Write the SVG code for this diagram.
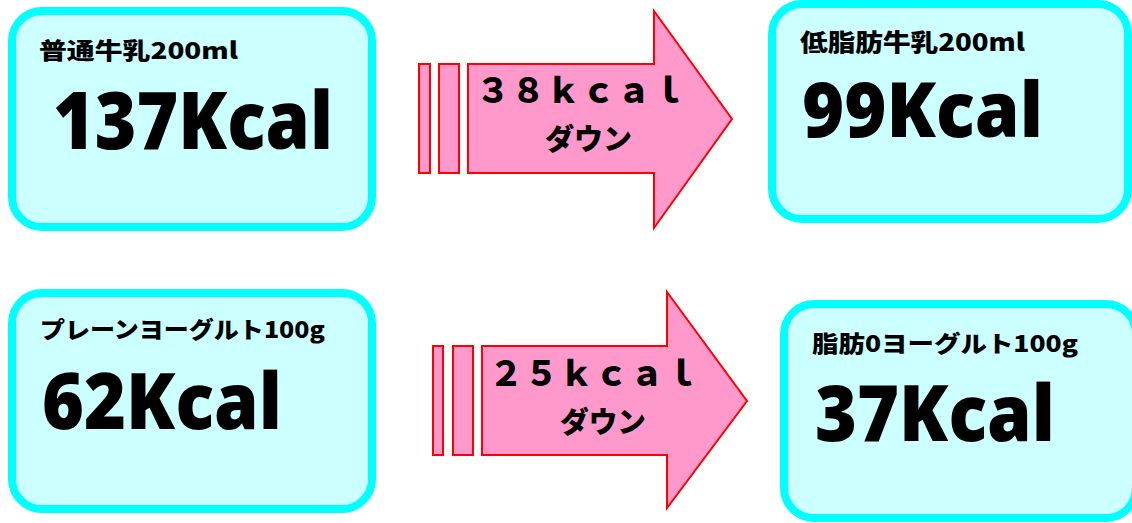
<svg xmlns="http://www.w3.org/2000/svg" width="1132" height="523" viewBox="0 0 1132 523">
<style>
.box{fill:#CCFFFF;stroke:#00FFFF;stroke-width:8}
.arr{fill:#FF99CC;stroke:#FF0000;stroke-width:2}
.lbl{font-family:"Noto Sans CJK JP","Noto Sans",sans-serif;font-weight:900;fill:#000}
.big{font-family:"Noto Sans","Noto Sans CJK JP",sans-serif;font-weight:900;fill:#000}
.at{font-family:"Noto Sans CJK JP",sans-serif;font-weight:900;fill:#000}
</style>
<rect width="1132" height="523" fill="#FFFFFF"/>
<g id="node-milk">
<rect class="box" x="12" y="11" width="360" height="216" rx="30"/>
<text class="lbl" x="39" y="59" font-size="23" textLength="199" lengthAdjust="spacingAndGlyphs">普通牛乳200ml</text>
<text class="big" x="53" y="149" font-size="80" textLength="280" lengthAdjust="spacingAndGlyphs">137Kcal</text>
</g>
<g id="node-lowfat-milk">
<rect class="box" x="772" y="4" width="356" height="215" rx="30"/>
<text class="lbl" x="800" y="51" font-size="24" textLength="225" lengthAdjust="spacingAndGlyphs">低脂肪牛乳200ml</text>
<text class="big" x="802" y="137" font-size="76" textLength="241" lengthAdjust="spacingAndGlyphs">99Kcal</text>
</g>
<g id="node-yogurt">
<rect class="box" x="12" y="293" width="360" height="216" rx="30"/>
<text class="lbl" x="40" y="338" font-size="23" textLength="285" lengthAdjust="spacingAndGlyphs">プレーンヨーグルト100g</text>
<text class="big" x="42" y="429" font-size="78" textLength="240" lengthAdjust="spacingAndGlyphs">62Kcal</text>
</g>
<g id="node-nonfat-yogurt">
<rect class="box" x="784" y="304" width="352" height="214" rx="30"/>
<text class="lbl" x="812" y="352" font-size="23" textLength="266" lengthAdjust="spacingAndGlyphs">脂肪0ヨーグルト100g</text>
<text class="big" x="815" y="441" font-size="78" textLength="240" lengthAdjust="spacingAndGlyphs">37Kcal</text>
</g>
<g id="connectors">
<g id="arrow-top">
<rect class="arr" x="419" y="64" width="11" height="109"/>
<rect class="arr" x="439" y="64" width="20" height="109"/>
<polygon class="arr" points="468,64 654,64 654,11 732,119 654,228 654,173 468,173"/>
<text class="at" x="476" y="103" font-size="34" textLength="210" lengthAdjust="spacing">３８ｋｃａｌ</text>
<text class="at" x="545" y="150" font-size="29" textLength="87" lengthAdjust="spacingAndGlyphs">ダウン</text>
</g>
<g id="arrow-bottom">
<rect class="arr" x="433" y="346" width="10" height="109"/>
<rect class="arr" x="453" y="346" width="20" height="109"/>
<polygon class="arr" points="482,346 667,346 667,292 747,401 667,508 667,455 482,455"/>
<text class="at" x="489" y="386" font-size="34" textLength="210" lengthAdjust="spacing">２５ｋｃａｌ</text>
<text class="at" x="560" y="433" font-size="29" textLength="86" lengthAdjust="spacingAndGlyphs">ダウン</text>
</g>
</g>
</svg>
